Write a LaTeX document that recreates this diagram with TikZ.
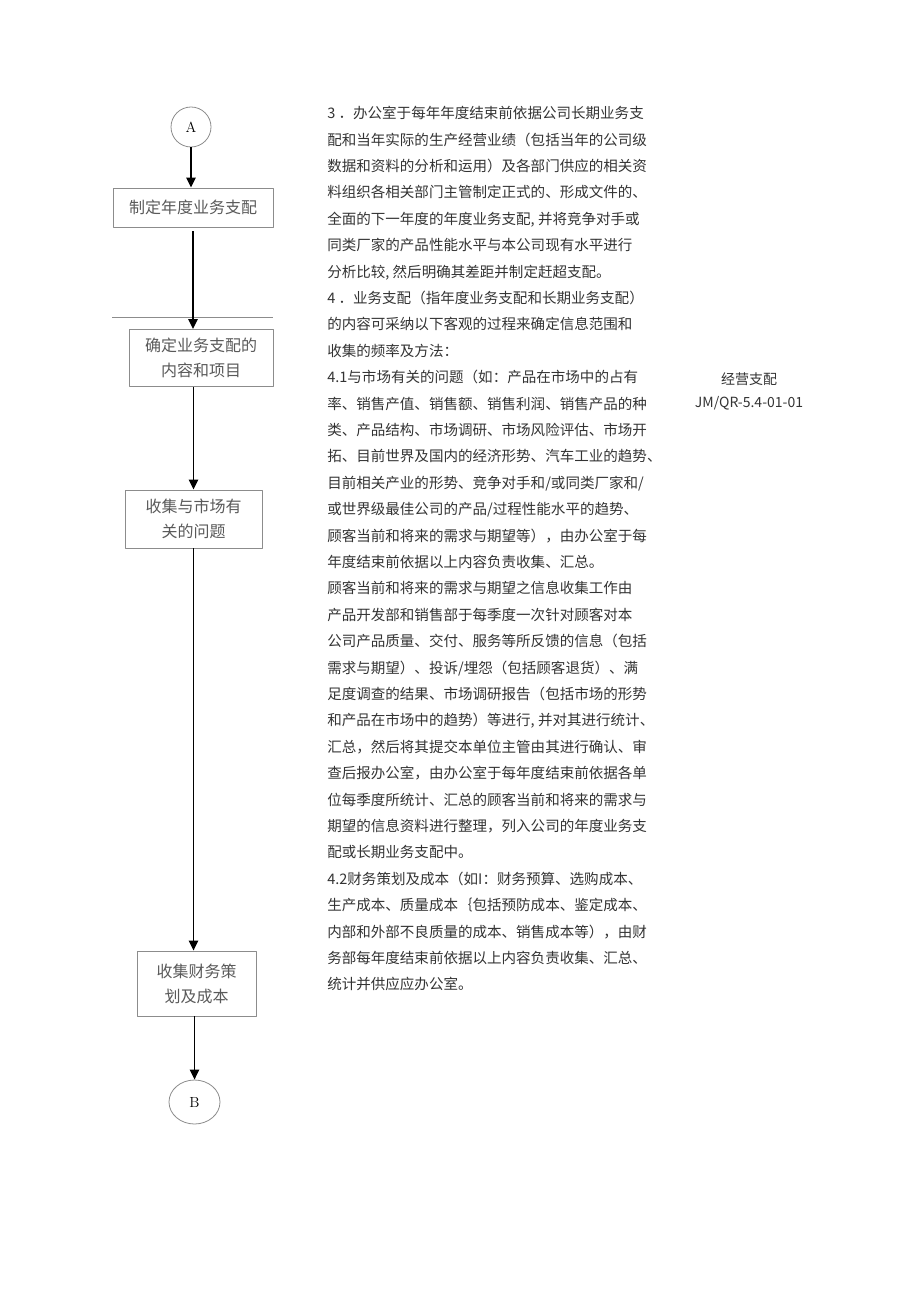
\documentclass[tikz,border=0pt]{standalone}
\usepackage{fontspec}
\newfontfamily\cjk{Noto Sans CJK SC}
\usetikzlibrary{arrows.meta,shapes.geometric}
\begin{document}
\begin{tikzpicture}[x=0.75pt,y=-0.75pt,line join=round,
 flowbox/.style={draw=black!45,line width=0.6pt,align=center,text=black!65,inner sep=0pt,font=\cjk\fontsize{12}{18.75}\selectfont},
 conn/.style={draw=black!45,line width=0.6pt,inner sep=0pt,font=\fontsize{11}{13}\selectfont},
 go/.style={line width=1.35pt,-{Triangle[length=7.5pt,width=7pt]}}]
\useasboundingbox (0,0) rectangle (920,1301);
\node[conn,circle,minimum size=30pt] (A) at (191,127) {A};
\node[flowbox,minimum width=120pt,minimum height=29.25pt] (plan) at (193,207.5) {制定年度业务支配};
\node[flowbox,minimum width=108pt,minimum height=42.75pt] (content) at (201,358) {确定业务支配的\\内容和项目};
\node[flowbox,minimum width=102.75pt,minimum height=43.5pt] (market) at (193.5,519) {收集与市场有\\关的问题};
\node[flowbox,minimum width=89.25pt,minimum height=48.75pt] (finance) at (196.5,983.5) {收集财务策\\划及成本};
\node[conn,ellipse,minimum width=38.25pt,minimum height=33pt] (B) at (194.5,1102) {B};
\draw[black!45,line width=0.6pt] (112,317) -- (273,317);
\draw[go] (A.south) -- (A.south |- plan.north);
\draw[go] ([yshift=-3pt]plan.south) -- (plan.south |- content.north);
\draw[go] (market.north |- content.south) -- (market.north);
\draw[go] (market.south) -- (market.south |- finance.north);
\draw[go] (B.north |- finance.south) -- (B.north);
\node[anchor=north west,inner sep=0pt,align=left,text=black!80,font=\cjk\fontsize{10.9}{19.8}\selectfont] (steps) at (327,106) {3 ．办公室于每年年度结束前依据公司长期业务支\\
配和当年实际的生产经营业绩（包括当年的公司级\\
数据和资料的分析和运用）及各部门供应的相关资\\
料组织各相关部门主管制定正式的、形成文件的、\\
全面的下一年度的年度业务支配, 并将竞争对手或\\
同类厂家的产品性能水平与本公司现有水平进行\\
分析比较, 然后明确其差距并制定赶超支配。\\
4 ．业务支配（指年度业务支配和长期业务支配）\\
的内容可采纳以下客观的过程来确定信息范围和\\
收集的频率及方法：\\
4.1与市场有关的问题（如：产品在市场中的占有\\
率、销售产值、销售额、销售利润、销售产品的种\\
类、产品结构、市场调研、市场风险评估、市场开\\
拓、目前世界及国内的经济形势、汽车工业的趋势、\\
目前相关产业的形势、竞争对手和/或同类厂家和/\\
或世界级最佳公司的产品/过程性能水平的趋势、\\
顾客当前和将来的需求与期望等），由办公室于每\\
年度结束前依据以上内容负责收集、汇总。\\
顾客当前和将来的需求与期望之信息收集工作由\\
产品开发部和销售部于每季度一次针对顾客对本\\
公司产品质量、交付、服务等所反馈的信息（包括\\
需求与期望）、投诉/埋怨（包括顾客退货）、满\\
足度调查的结果、市场调研报告（包括市场的形势\\
和产品在市场中的趋势）等进行, 并对其进行统计、\\
汇总，然后将其提交本单位主管由其进行确认、审\\
查后报办公室，由办公室于每年度结束前依据各单\\
位每季度所统计、汇总的顾客当前和将来的需求与\\
期望的信息资料进行整理，列入公司的年度业务支\\
配或长期业务支配中。\\
4.2财务策划及成本（如I：财务预算、选购成本、\\
生产成本、质量成本｛包括预防成本、鉴定成本、\\
内部和外部不良质量的成本、销售成本等），由财\\
务部每年度结束前依据以上内容负责收集、汇总、\\
统计并供应应办公室。};
\node[align=center,inner sep=0pt,text=black!80,font=\cjk\fontsize{10.5}{17.25}\selectfont] (code) at (749,391) {经营支配\\JM/QR-5.4-01-01};
\end{tikzpicture}
\end{document}
